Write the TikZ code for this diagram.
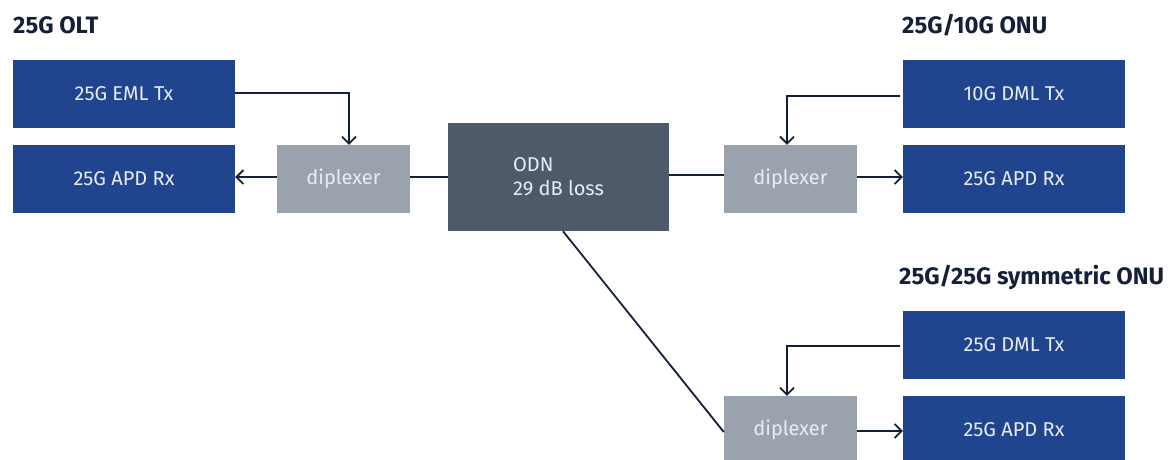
\documentclass[tikz,border=0pt]{standalone}
\usepackage{fontspec}
\setmainfont{Fira Sans}
\usetikzlibrary{arrows.meta}
\definecolor{boxblue}{HTML}{21448F}
\definecolor{dipgrey}{HTML}{9AA3AD}
\definecolor{odngrey}{HTML}{4E5A6A}
\definecolor{navy}{HTML}{14203A}
\definecolor{boxtext}{HTML}{E8ECF4}
\tikzset{
  bluebox/.style={rectangle, fill=boxblue, minimum width=222pt, minimum height=68pt, inner sep=0pt, text=boxtext, font=\fontsize{20}{24}\selectfont},
  dipbox/.style={rectangle, fill=dipgrey, minimum width=133pt, minimum height=68pt, inner sep=0pt, text=boxtext, font=\fontsize{20}{24}\selectfont},
  odnbox/.style={rectangle, fill=odngrey, minimum width=221pt, minimum height=108pt, inner sep=0pt, text=boxtext, align=left, font=\fontsize{20}{24}\selectfont},
  titletext/.style={anchor=base west, inner sep=0pt, text=navy, font=\fontsize{23.8}{28}\selectfont\bfseries},
  wire/.style={draw=navy, line width=1.8pt},
  arr/.style={wire, -{Straight Barb[length=7pt,width=14pt,line width=1.8pt]}}
}
\begin{document}
\begin{tikzpicture}[x=1pt,y=-1pt]
\useasboundingbox (0,0) rectangle (1169,459);
% titles
\node[titletext] (t1) at (13,33) {25G OLT};
\node[titletext] (t2) at (902,33) {25G/10G ONU};
\node[titletext] (t3) at (899,284) {25G/25G symmetric ONU};
% OLT
\node[bluebox] (eml) at (124,94) {25G EML Tx};
\node[bluebox] (olrx) at (124,179) {25G APD Rx};
\node[dipbox] (dip1) at (343.5,179) {diplexer};
% ODN
\node[odnbox] (odn) at (558.5,177) {ODN\\29 dB loss};
% ONU 1
\node[dipbox] (dip2) at (790.5,179) {diplexer};
\node[bluebox] (dml1) at (1014,94) {10G DML Tx};
\node[bluebox] (rx1) at (1014,179) {25G APD Rx};
% ONU 2
\node[dipbox] (dip3) at (790.5,430) {diplexer};
\node[bluebox] (dml2) at (1014,345) {25G DML Tx};
\node[bluebox] (rx2) at (1014,430) {25G APD Rx};
% connectors
\draw[arr] ([yshift=1pt]eml.east) -| ([xshift=5.5pt]dip1.north);
\draw[arr] ([yshift=2pt]dip1.west) -- ([yshift=2pt]olrx.east);
\draw[wire] ([yshift=2pt]dip1.east) -- ([yshift=2pt]dip1.east -| odn.west);
\draw[wire] ([yshift=2pt]odn.east) -- ([yshift=2pt]odn.east -| dip2.west);
\draw[arr] ([xshift=-3pt,yshift=-2pt]dml1.west) -| ([xshift=-3.5pt]dip2.north);
\draw[arr] ([yshift=2pt]dip2.east) -- ([yshift=2pt]rx1.west);
\draw[wire] ([xshift=4.5pt]odn.south) -- ([yshift=-2pt]dip3.west);
\draw[arr] ([xshift=-3pt,yshift=-1pt]dml2.west) -| ([xshift=-3.5pt]dip3.north);
\draw[arr] ([yshift=-1pt]dip3.east) -- ([yshift=-1pt]rx2.west);
\end{tikzpicture}
\end{document}
